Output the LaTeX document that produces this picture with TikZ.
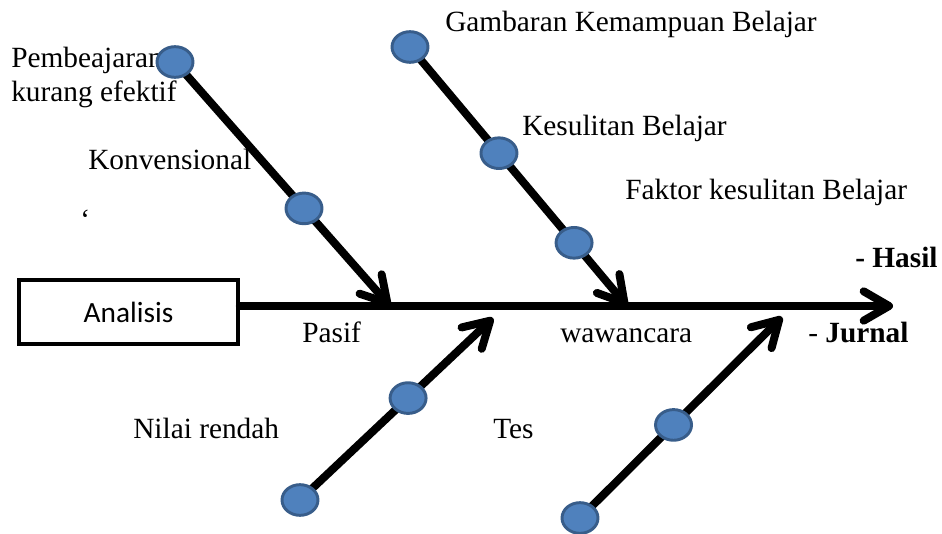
\documentclass[tikz,border=0pt]{standalone}
\usepackage{fontspec}
\setmainfont{Liberation Serif}
\newfontfamily\calibri{Carlito}
\usetikzlibrary{arrows.meta,shapes.geometric,calc}
\pgfdeclarelayer{bg}
\pgfsetlayers{bg,main}
\definecolor{dotfill}{RGB}{79,129,189}
\definecolor{dotedge}{RGB}{56,93,138}
\begin{document}
\begin{tikzpicture}[x=0.75pt,y=-0.75pt,
  dot/.style={ellipse,draw=dotedge,fill=dotfill,line width=2.2pt,minimum width=27pt,minimum height=23pt,inner sep=0pt},
  bone/.style={line width=6pt,line cap=round,-{Straight Barb[length=19pt,width=22pt,round]}},
  lbl/.style={font=\fontsize{22}{25.5}\selectfont,inner sep=0pt,anchor=base west},
  boxst/.style={draw,line width=3pt,minimum width=164pt,minimum height=48pt,font=\calibri\fontsize{22}{24}\selectfont}]
\useasboundingbox (0,0) rectangle (942,534);

% texts
\node[lbl,align=left] (t1) at (11,102) {Pembeajaran\\kurang efektif};
\node[lbl] (t2) at (88,170) {Konvensional};
\node[lbl] (t3) at (80,230) {\char96};
\node[lbl] (t4) at (445,32) {Gambaran Kemampuan Belajar};
\node[lbl] (t5) at (522,136) {Kesulitan Belajar};
\node[lbl] (t6) at (625,200) {Faktor kesulitan Belajar};
\node[lbl] (t7) at (855,268) {\bfseries - Hasil};
\node[lbl] (t8) at (808,343) {- \bfseries Jurnal};
\node[lbl] (t9) at (302,343) {Pasif};
\node[lbl] (t10) at (560,343) {wawancara};
\node[lbl] (t11) at (133,438) {Nilai rendah};
\node[lbl] (t12) at (493,438) {Tes};

% box and tips
\node[boxst] (box) at (128.5,312) {Analisis};
\coordinate (head) at (893,306);
\coordinate (u1tip) at (390,306);
\coordinate (u2tip) at (627,306);
\coordinate (l1tip) at (493,318);
\coordinate (l2tip) at (782,317);

% dots
\node[dot] (u1a) at (175,62) {};
\node[dot] (u1b) at ($(u1a)!0.6!(u1tip)$) {};
\node[dot] (u2a) at (410,47) {};
\node[dot] (u2b) at ($(u2a)!0.41!(u2tip)$) {};
\node[dot] (u2c) at ($(u2a)!0.756!(u2tip)$) {};
\node[dot] (l1a) at (300,500) {};
\node[dot] (l1b) at ($(l1a)!0.56!(l1tip)$) {};
\node[dot] (l2a) at (580,518) {};
\node[dot] (l2b) at ($(l2a)!0.463!(l2tip)$) {};

\begin{pgfonlayer}{bg}
\draw[bone] (box.east |- head) -- (head);
\draw[bone] (u1a.center) -- (u1tip);
\draw[bone] (u2a.center) -- (u2tip);
\draw[bone] (l1a.center) -- (l1tip);
\draw[bone] (l2a.center) -- (l2tip);
\end{pgfonlayer}
\end{tikzpicture}
\end{document}
